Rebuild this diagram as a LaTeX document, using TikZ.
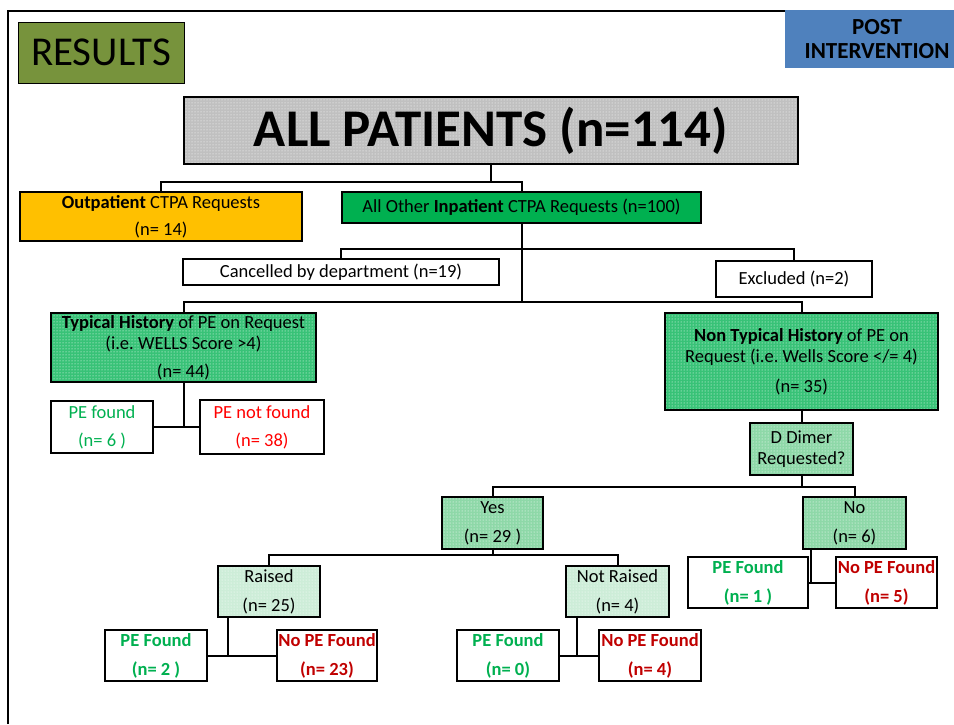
\documentclass[tikz,border=0pt]{standalone}
\usepackage{fontspec}
\setmainfont{Carlito}
\usetikzlibrary{patterns}
\definecolor{resgreen}{HTML}{77933C}
\definecolor{postblue}{HTML}{4F81BD}
\definecolor{outyellow}{HTML}{FFC000}
\definecolor{ingreen}{HTML}{00B050}
\definecolor{histgreen}{HTML}{38C277}
\definecolor{midgreen}{HTML}{8ED8A8}
\definecolor{palegreen}{HTML}{CDEDD8}
\definecolor{allgray}{HTML}{C0C0C0}
\definecolor{pegreen}{HTML}{00B050}
\definecolor{pered}{HTML}{FF0000}
\definecolor{nored}{HTML}{C00000}

\begin{document}
\begin{tikzpicture}[x=1pt, y=-1pt, line width=2pt,
		box/.style={draw, line width=2pt, inner sep=0pt, outer sep=0pt, align=center,
			font=\fontsize{18.5}{21}\selectfont},
		dotbox/.style={box, preaction={fill=#1}, pattern=dots, pattern color=white}]
		\useasboundingbox (0,0) rectangle (954,724);
		
		% frame and titles
		\draw (8,724) -- (8,11) -- (954,11);
		\node[box, fill=resgreen, line width=1pt, minimum width=166, minimum height=61,
			font=\fontsize{41}{44}\selectfont] (res) at (101,52.5) {RESULTS};
		\node[box, draw=none, fill=postblue, minimum width=184, minimum height=58,
			font=\fontsize{23}{24}\selectfont\bfseries] (post) at (877,39) {POST\\INTERVENTION};
		\node[dotbox=allgray, minimum width=614, minimum height=67,
			font=\fontsize{53}{56}\selectfont\bfseries] (all) at (491,130.5) {ALL PATIENTS (n=114)};
		
		% first split
		\node[box, fill=outyellow, minimum width=282, minimum height=49] (outp) at (161,216.5)
			{\textbf{Outpatient} CTPA Requests\\[6pt](n= 14)};
		\node[box, fill=ingreen, minimum width=359, minimum height=31] (inp) at (521.5,207.5)
			{All Other \textbf{Inpatient} CTPA Requests (n=100)};
		\node[box, minimum width=316, minimum height=26] (canc) at (341,272) {Cancelled by department (n=19)};
		\node[box, minimum width=156, minimum height=36] (excl) at (794,279) {Excluded (n=2)};
		\node[dotbox=histgreen, minimum width=265, minimum height=69] (typ) at (183.5,347.5)
			{\textbf{Typical History} of PE on Request\\(i.e.\ WELLS Score >4)\\[7pt](n= 44)};
		\node[dotbox=histgreen, minimum width=273, minimum height=97] (ntyp) at (801.5,361.5)
			{\textbf{Non Typical History} of PE on\\Request (i.e.\ Wells Score </= 4)\\[9pt](n= 35)};
		
		% typical branch
		\node[box, text=pegreen, minimum width=102, minimum height=52] (tfound) at (102,427)
			{PE found\\[7pt](n= 6 )};
		\node[box, text=pered, minimum width=124, minimum height=54] (tnot) at (262,427)
			{PE not found\\[7pt](n= 38)};
		
		% non typical branch
		\node[dotbox=midgreen, minimum width=103, minimum height=52] (ddim) at (801.5,449)
			{D Dimer\\Requested?};
		\node[dotbox=midgreen, minimum width=101, minimum height=52] (yes) at (492.5,523)
			{Yes\\[8pt](n= 29 )};
		\node[dotbox=midgreen, minimum width=103, minimum height=52] (no) at (854.5,523)
			{No\\[8pt](n= 6)};
		\node[box, text=pegreen, minimum width=120, minimum height=51,
			font=\fontsize{18.5}{21}\selectfont\bfseries] (nofound) at (748,582.5) {PE Found\\[8pt](n= 1 )};
		\node[box, text=nored, minimum width=101, minimum height=51,
			font=\fontsize{18.5}{21}\selectfont\bfseries] (nonot) at (886.5,582.5) {No PE Found\\[8pt](n= 5)};
		\node[dotbox=palegreen, minimum width=102, minimum height=51] (raised) at (269,591.5)
			{Raised\\[8pt](n= 25)};
		\node[dotbox=palegreen, minimum width=103, minimum height=51] (nraised) at (617.5,591.5)
			{Not Raised\\[8pt](n= 4)};
		\node[box, text=pegreen, minimum width=102, minimum height=51,
			font=\fontsize{18.5}{21}\selectfont\bfseries] (rfound) at (156,655.5) {PE Found\\[8pt](n= 2 )};
		\node[box, text=nored, minimum width=100, minimum height=51,
			font=\fontsize{18.5}{21}\selectfont\bfseries] (rnot) at (327,655.5) {No PE Found\\[8pt](n= 23)};
		\node[box, text=pegreen, minimum width=102, minimum height=51,
			font=\fontsize{18.5}{21}\selectfont\bfseries] (nrfound) at (508,655.5) {PE Found\\[8pt](n= 0)};
		\node[box, text=nored, minimum width=102, minimum height=51,
			font=\fontsize{18.5}{21}\selectfont\bfseries] (nrnot) at (650,655.5) {No PE Found\\[8pt](n= 4)};
		
		% junctions
		\coordinate (J1) at (491,182);
		\coordinate (J2) at (521.5,249);
		\coordinate (J3) at (521.5,302);
		\coordinate (J4) at (183.5,427);
		\coordinate (J5) at (801.5,487);
		\coordinate (J6) at (811,582.5);
		\coordinate (J7) at (492.5,555);
		\coordinate (J8) at (228,655.5);
		\coordinate (J9) at (577,655.5);
		
		% connectors
		\draw (all.south) -- (J1);
		\draw (outp.north) |- (J1) -| (inp.north);
		\draw (inp.south) -- (J3);
		\draw (canc.north) |- (J2) -| (excl.north);
		\draw (typ.north) |- (J3) -| (ntyp.north);
		\draw (typ.south) -- (J4);
		\draw (tfound.east) -- (tnot.west);
		\draw (ntyp.south) -- (ddim.north);
		\draw (ddim.south) -- (J5);
		\draw (yes.north) |- (J5) -| (no.north);
		\draw (no.south -| J6) -- (J6);
		\draw (nofound.east) -- (nonot.west);
		\draw (yes.south) -- (J7);
		\draw (raised.north) |- (J7) -| (nraised.north);
		\draw (raised.south -| J8) -- (J8);
		\draw (rfound.east) -- (rnot.west);
		\draw (nraised.south -| J9) -- (J9);
		\draw (nrfound.east) -- (nrnot.west);
	\end{tikzpicture}
\end{document}
